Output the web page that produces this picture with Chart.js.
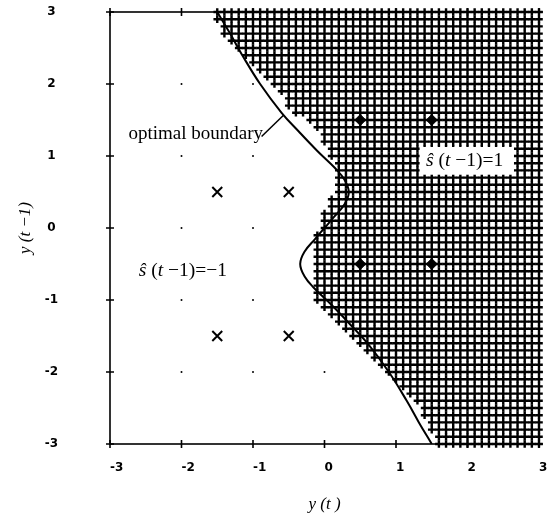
<!DOCTYPE html>
<html>
<head>
<meta charset="utf-8">
<script src="https://cdn.jsdelivr.net/npm/chart.js@4.4.0/dist/chart.umd.min.js"></script>
<style>
  html, body { margin: 0; padding: 0; background: #fff; }
  #wrap { width: 548px; height: 517px; }
</style>
</head>
<body>
<div id="wrap"><canvas id="decision-chart"></canvas></div>
<script>
let axisTicks = [-3, -2, -1, 0, 1, 2, 3]

// first hatched x in each grid row, rows go y = 3.0 down to -3.0 in 0.1 steps
let hatchStart = [
    -1.5, -1.5, -1.4, -1.4, -1.3, -1.2, -1.1, -1.0, -0.9, -0.8,
    -0.7, -0.6, -0.5, -0.5, -0.4, -0.2, -0.1, 0.0, 0.0, 0.1,
    0.1, 0.2, 0.2, 0.2, 0.2, 0.2, 0.1, 0.1, 0.0, 0.0,
    0.0, -0.1, -0.1, -0.1, -0.1, -0.1, -0.1, -0.1, -0.1, -0.1,
    -0.1, 0.0, 0.1, 0.2, 0.3, 0.4, 0.5, 0.6, 0.7, 0.8,
    0.9, 1.0, 1.1, 1.2, 1.3, 1.4, 1.4, 1.5, 1.5, 1.6,
    1.6
]

// optimal boundary
let boundaryX = [-1.5, -1.32, -1.15, -0.9, -0.6, -0.36, -0.1, 0.15, 0.28, 0.34, 0.28, 0.13, 0,
    -0.13, -0.28, -0.34, -0.28, -0.15, 0.1, 0.36, 0.6, 0.9, 1.15, 1.32, 1.5]
let boundaryY = [3, 2.7, 2.4, 2.0, 1.6, 1.34, 1.07, 0.83, 0.67, 0.5, 0.33, 0.15, 0,
    -0.15, -0.33, -0.5, -0.67, -0.83, -1.07, -1.34, -1.6, -2.0, -2.4, -2.7, -3]

// centres for s(t-1) = -1 and s(t-1) = 1
let crossX = [-1.5, -0.5, -1.5, -0.5]
let crossY = [0.5, 0.5, -1.5, -1.5]
let diamondX = [0.5, 1.5, 0.5, 1.5]
let diamondY = [1.5, 1.5, -0.5, -0.5]

let dotX = [-2, -1, -2, -1, -2, -1, -2, -1, -2, -1, 0]
let dotY = [2, 2, 1, 1, 0, 0, -1, -1, -2, -2, -2]

let leaderX = [-0.88, -0.57]
let leaderY = [1.27, 1.57]

let zip = (xs, ys) => xs.map((v, i) => ({x: v, y: ys[i]}))

let hatchPoints = []
hatchStart.forEach((start, row) => {
    let y = (30 - row) / 10
    for (let k = Math.round(start * 10); k <= 30; k++) {
        hatchPoints.push({x: k / 10, y})
    }
})

function drawParts(ctx, parts, cx, cy, size) {
    let fonts = parts.map(p => (p[1] ? 'italic ' : '') + size + 'px "Liberation Serif"')
    let widths = parts.map((p, i) => {
        ctx.font = fonts[i]
        return ctx.measureText(p[0]).width
    })
    let total = widths.reduce((a, b) => a + b, 0)
    let xPos = cx - total / 2
    ctx.textBaseline = 'middle'
    ctx.textAlign = 'left'
    ctx.fillStyle = '#000'
    parts.forEach((p, i) => {
        ctx.font = fonts[i]
        ctx.fillText(p[0], xPos, cy)
        xPos += widths[i]
    })
}

const framePlugin = {
    id: 'frame',
    afterDatasetsDraw(chart) {
        const {ctx, chartArea: a, scales: {x, y}} = chart
        ctx.save()
        ctx.strokeStyle = '#000'
        ctx.lineWidth = 1.6
        ctx.strokeRect(a.left, a.top, a.right - a.left, a.bottom - a.top)
        ctx.beginPath()
        axisTicks.forEach(v => {
            let px = x.getPixelForValue(v)
            let py = y.getPixelForValue(v)
            ctx.moveTo(px, a.bottom - 4); ctx.lineTo(px, a.bottom + 4)
            ctx.moveTo(px, a.top - 4); ctx.lineTo(px, a.top + 4)
            ctx.moveTo(a.left - 4, py); ctx.lineTo(a.left + 4, py)
            ctx.moveTo(a.right - 4, py); ctx.lineTo(a.right + 4, py)
        })
        ctx.stroke()

        // white label box on the hatched side
        let bx0 = x.getPixelForValue(1.33), bx1 = x.getPixelForValue(2.65)
        let by0 = y.getPixelForValue(1.125), by1 = y.getPixelForValue(0.74)
        ctx.fillStyle = '#fff'
        ctx.fillRect(bx0, by0, bx1 - bx0, by1 - by0)

        drawParts(ctx, [['ŝ', true], [' (', false], ['t', true], [' \u22121)=1', false]],
            x.getPixelForValue(1.96), y.getPixelForValue(0.93), 19.5)
        drawParts(ctx, [['ŝ', true], [' (', false], ['t', true], [' \u22121)=\u22121', false]],
            x.getPixelForValue(-1.98), y.getPixelForValue(-0.6), 19.5)
        drawParts(ctx, [['optimal boundary', false]],
            x.getPixelForValue(-1.8), y.getPixelForValue(1.3), 19)
        ctx.restore()
    }
}

let tickFont = {family: 'DejaVu Sans', size: 12, weight: 'bold'}
let titleFont = {family: 'Liberation Serif', size: 17, style: 'italic'}

new Chart(document.getElementById('decision-chart'), {
    type: 'scatter',
    data: {
        datasets: [{
            data: zip(crossX, crossY),
            pointStyle: 'crossRot',
            pointRadius: 7,
            borderColor: '#000',
            borderWidth: 2,
            order: 1
        }, {
            data: zip(diamondX, diamondY),
            pointStyle: 'rectRot',
            pointRadius: 5.5,
            backgroundColor: '#000',
            borderColor: '#000',
            borderWidth: 1,
            order: 1
        }, {
            data: zip(leaderX, leaderY),
            showLine: true,
            pointRadius: 0,
            borderColor: '#000',
            borderWidth: 1.5,
            order: 2
        }, {
            data: zip(boundaryX, boundaryY),
            showLine: true,
            tension: 0.4,
            pointRadius: 0,
            borderColor: '#000',
            borderWidth: 2,
            order: 3
        }, {
            data: hatchPoints,
            pointStyle: 'cross',
            pointRadius: 3.8,
            borderColor: '#000',
            borderWidth: 2.4,
            clip: false,
            order: 4
        }, {
            data: zip(dotX, dotY),
            pointStyle: 'circle',
            pointRadius: 1,
            backgroundColor: '#000',
            borderWidth: 0,
            order: 5
        }]
    },
    options: {
        responsive: true,
        maintainAspectRatio: false,
        animation: false,
        events: [],
        layout: {padding: {left: 0, right: 6, top: 12, bottom: 0}},
        plugins: {legend: {display: false}, tooltip: {enabled: false}},
        scales: {
            x: {
                type: 'linear',
                min: -3,
                max: 3,
                grid: {display: false, drawTicks: false},
                border: {display: false},
                ticks: {stepSize: 1, align: 'start', padding: 17, color: '#000', font: tickFont},
                title: {display: true, text: 'y (t )', color: '#000', font: titleFont, padding: {top: 0, bottom: 2}},
                afterFit: scale => {
                    scale.height = 73
                    scale.paddingLeft = 0
                    scale.paddingRight = 0
                }
            },
            y: {
                type: 'linear',
                min: -3,
                max: 3,
                grid: {display: false, drawTicks: false},
                border: {display: false},
                ticks: {stepSize: 1, crossAlign: 'center', padding: 52, color: '#000', font: tickFont},
                title: {display: true, text: 'y (t \u22121)', color: '#000', font: titleFont, padding: {top: 15, bottom: 0}},
                afterFit: scale => {
                    scale.width = 110
                    scale.paddingTop = 0
                    scale.paddingBottom = 0
                }
            }
        }
    },
    plugins: [framePlugin]
})
</script>
</body>
</html>
